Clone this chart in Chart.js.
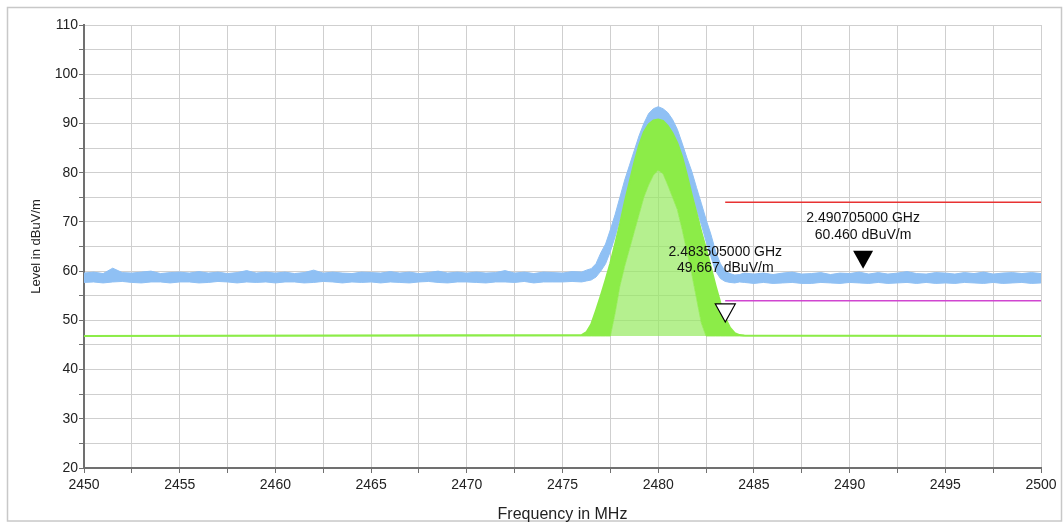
<!DOCTYPE html>
<html>
<head>
<meta charset="utf-8">
<script src="https://cdn.jsdelivr.net/npm/chart.js@4.4.1/dist/chart.umd.min.js"></script>
<style>
  html, body { margin: 0; padding: 0; background: #fff; }
  #wrap { width: 1063px; height: 524px; }
</style>
</head>
<body>
<div id="wrap"><canvas id="spectrum" width="1063" height="524"></canvas></div>
<script>
// peak (max hold) trace - blue, drawn as band between upper/lower edges
var blueFreq = [
  2450, 2450.5, 2451, 2451.5, 2452, 2452.5, 2453, 2453.5, 2454, 2454.5,
  2455, 2455.5, 2456, 2456.5, 2457, 2457.5, 2458, 2458.5, 2459, 2459.5,
  2460, 2460.5, 2461, 2461.5, 2462, 2462.5, 2463, 2463.5, 2464, 2464.5,
  2465, 2465.5, 2466, 2466.5, 2467, 2467.5, 2468, 2468.5, 2469, 2469.5,
  2470, 2470.5, 2471, 2471.5, 2472, 2472.5, 2473, 2473.5, 2474, 2474.5,
  2475, 2475.5,
  2476, 2476.25, 2476.5, 2476.75, 2477, 2477.25, 2477.5, 2477.75, 2478, 2478.25,
  2478.5, 2478.75, 2479, 2479.25, 2479.5, 2479.75, 2480, 2480.25, 2480.5, 2480.75,
  2481, 2481.25, 2481.5, 2481.75, 2482, 2482.25, 2482.5, 2482.75, 2483, 2483.25,
  2483.5, 2483.75, 2484, 2484.25, 2484.5,
  2485, 2485.5, 2486, 2486.5, 2487, 2487.5, 2488, 2488.5, 2489, 2489.5,
  2490, 2490.5, 2491, 2491.5, 2492, 2492.5, 2493, 2493.5, 2494, 2494.5,
  2495, 2495.5, 2496, 2496.5, 2497, 2497.5, 2498, 2498.5, 2499, 2499.5,
  2500
]
var blueHi = [
  59.6, 59.8, 59.5, 60.6, 59.7, 59.6, 59.8, 60.0, 59.5, 59.7,
  59.8, 59.6, 59.9, 59.6, 59.8, 59.5, 59.7, 60.1, 59.6, 59.8,
  59.6, 59.8, 59.5, 59.7, 60.2, 59.6, 59.8, 59.6, 59.5, 59.8,
  59.7, 59.6, 59.9, 59.6, 59.8, 59.5, 59.7, 60.0, 59.6, 59.8,
  59.6, 59.8, 59.6, 59.7, 60.1, 59.6, 59.8, 59.5, 59.8, 59.7,
  59.6, 59.9,
  59.8, 60.2, 60.5, 61.5, 63.7, 65.5, 68.4, 71.5, 75.0, 78.5,
  81.5, 84.5, 87.5, 90.0, 92.0, 93.0, 93.4, 93.0, 92.2, 90.8,
  88.8, 86.0, 83.0, 80.3, 77.0, 73.8, 70.5, 67.5, 64.0, 61.5,
  60.0, 59.5, 59.2, 59.3, 59.6,
  59.4, 59.6, 59.3, 59.6, 59.8, 59.4, 59.5, 59.7, 59.3, 59.6,
  59.5, 59.8, 59.4, 59.7, 59.4, 59.6, 59.9, 59.5, 59.4, 59.7,
  59.6, 59.4, 59.7, 59.5, 59.8, 59.4, 59.6, 59.7, 59.5, 59.7,
  59.5
]
var blueLo = [
  57.7, 57.8, 57.6, 57.8, 57.9, 57.7, 57.6, 57.8, 57.8, 57.6,
  57.8, 57.8, 57.6, 57.7, 57.9, 57.8, 57.6, 57.8, 57.7, 57.8,
  57.6, 57.8, 57.8, 57.6, 57.7, 57.9, 57.8, 57.6, 57.8, 57.7,
  57.8, 57.6, 57.8, 57.7, 57.6, 57.8, 57.9, 57.7, 57.6, 57.8,
  57.8, 57.7, 57.6, 57.8, 57.8, 57.7, 57.9, 57.6, 57.8, 57.8,
  57.8, 57.9,
  57.8, 58.0, 58.2, 58.8, 60.0, 61.5, 64.0, 67.0, 70.5, 74.0,
  77.0, 80.0, 83.0, 86.0, 88.5, 89.8, 90.3, 89.8, 88.8, 87.0,
  85.0, 82.0, 79.0, 76.0, 72.5, 69.5, 66.0, 63.0, 60.0, 58.5,
  57.9, 57.7, 57.6, 57.8, 57.7,
  57.5, 57.7, 57.5, 57.6, 57.7, 57.5, 57.5, 57.7, 57.6, 57.5,
  57.7, 57.6, 57.5, 57.7, 57.5, 57.6, 57.7, 57.5, 57.7, 57.5,
  57.6, 57.5, 57.7, 57.6, 57.5, 57.7, 57.5, 57.6, 57.7, 57.5,
  57.6
]

// average trace - green, solid between upper edge and inner edge
var greenFreq = [
  2450,
  2476, 2476.25, 2476.5, 2476.75, 2477, 2477.25, 2477.5, 2477.75, 2478, 2478.25,
  2478.5, 2478.75, 2479, 2479.25, 2479.5, 2479.75, 2480, 2480.25, 2480.5, 2480.75,
  2481, 2481.25, 2481.5, 2481.75, 2482, 2482.25, 2482.5, 2482.75, 2483, 2483.25,
  2483.5, 2483.75, 2484, 2484.25, 2484.5,
  2500
]
var greenHi = [
  46.8,
  47.0, 47.6, 49.2, 52.0, 55.0, 58.2, 61.6, 65.5, 69.5, 74.0,
  78.0, 82.0, 85.5, 88.2, 89.8, 90.6, 90.8, 90.5, 89.5, 88.0,
  86.0, 83.2, 79.5, 75.5, 71.8, 68.0, 64.5, 60.8, 57.0, 53.5,
  50.5, 48.5, 47.4, 47.0, 46.9,
  46.8
]
var greenLo = [
  46.8,
  46.8, 46.8, 46.8, 46.8, 46.8, 46.8, 46.8, 51.5, 57.0, 61.0,
  64.5, 68.0, 71.5, 75.0, 77.5, 79.5, 80.5, 79.8, 77.5, 75.0,
  72.5, 68.5, 64.0, 59.5, 54.5, 49.5, 46.8, 46.8, 46.8, 46.8,
  46.8, 46.8, 46.8, 46.8, 46.8,
  46.8
]

// limit lines
var limitFreq = [2483.5, 2500]
var peakLimit = 74
var avgLimit = 54

// markers
var markerFreq = [2483.505, 2490.705]
var markerLevel = [49.667, 60.460]
var markerFilled = [false, true]

var xTicksMin = 2450, xTicksMax = 2500
var yTicksMin = 20, yTicksMax = 110

function pts(xs, ys) {
  return xs.map(function (x, i) { return { x: x, y: ys[i] } })
}

var blueCol = 'rgb(143,192,244)'
var greenCol = 'rgb(140,236,72)'

var markerPlugin = {
  id: 'markers',
  afterDatasetsDraw: function (chart) {
    var ctx = chart.ctx
    var xs = chart.scales.x, ys = chart.scales.y
    var labelDy = [[-70, -54], [-51, -34]]
    ctx.save()
    for (var i = 0; i < markerFreq.length; i++) {
      var px = xs.getPixelForValue(markerFreq[i])
      var py = ys.getPixelForValue(markerLevel[i])
      ctx.beginPath()
      ctx.moveTo(px, py)
      ctx.lineTo(px - 10, py - 18)
      ctx.lineTo(px + 10, py - 18)
      ctx.closePath()
      if (markerFilled[i]) {
        ctx.fillStyle = '#000'
        ctx.fill()
      } else {
        ctx.fillStyle = '#fff'
        ctx.fill()
        ctx.strokeStyle = '#000'
        ctx.lineWidth = 1.2
        ctx.stroke()
      }
      ctx.fillStyle = '#111'
      ctx.font = '14px "Liberation Sans", Arial, sans-serif'
      ctx.textAlign = 'center'
      ctx.textBaseline = 'middle'
      ctx.fillText((markerFreq[i] / 1000).toFixed(9) + ' GHz', px, py + labelDy[i][0])
      ctx.fillText(markerLevel[i].toFixed(3) + ' dBuV/m', px, py + labelDy[i][1])
    }
    ctx.restore()
  }
}

var framePlugin = {
  id: 'frame',
  beforeDraw: function (chart) {
    var ctx = chart.ctx
    ctx.save()
    ctx.fillStyle = '#fff'
    ctx.fillRect(0, 0, chart.width, chart.height)
    ctx.strokeStyle = '#c8c8c8'
    ctx.lineWidth = 1.5
    ctx.strokeRect(7.5, 7.5, 1054, 513.5)
    ctx.restore()
  }
}

var font = { family: '"Liberation Sans", Arial, sans-serif', size: 14 }

var chart = new Chart(document.getElementById('spectrum').getContext('2d'), {
  type: 'line',
  data: {
    datasets: [
      {
        label: 'Peak limit',
        data: pts(limitFreq, [peakLimit, peakLimit]),
        borderColor: 'rgb(232,50,50)', borderWidth: 1.5,
        pointRadius: 0, fill: false, order: 0
      },
      {
        label: 'Average limit',
        data: pts(limitFreq, [avgLimit, avgLimit]),
        borderColor: 'rgb(208,70,208)', borderWidth: 1.5,
        pointRadius: 0, fill: false, order: 0
      },
      {
        label: 'Average',
        data: pts(greenFreq, greenHi),
        borderColor: greenCol, backgroundColor: greenCol, borderWidth: 2,
        pointRadius: 0, fill: { target: 3 }, order: 1
      },
      {
        label: 'Average inner',
        data: pts(greenFreq, greenLo),
        borderColor: 'rgba(140,236,72,0.7)', backgroundColor: 'rgba(150,234,95,0.7)', borderWidth: 1,
        pointRadius: 0, fill: { value: 46.8 }, order: 2
      },
      {
        label: 'Peak',
        data: pts(blueFreq, blueHi),
        borderColor: blueCol, backgroundColor: blueCol, borderWidth: 1,
        pointRadius: 0, fill: { target: 5 }, order: 3
      },
      {
        label: 'Peak low',
        data: pts(blueFreq, blueLo),
        borderColor: blueCol, borderWidth: 1,
        pointRadius: 0, fill: false, order: 4
      }
    ]
  },
  options: {
    responsive: false,
    animation: false,
    events: [],
    layout: { padding: { left: 0, top: 25, right: 22, bottom: 0 } },
    plugins: { legend: { display: false }, tooltip: { enabled: false } },
    elements: { line: { tension: 0 } },
    scales: {
      x: {
        type: 'linear', min: xTicksMin, max: xTicksMax,
        afterFit: function (s) { s.height = 56 },
        border: { color: '#707070', width: 2 },
        grid: { color: '#cfcfcf', tickColor: '#707070', tickLength: 5 },
        ticks: {
          stepSize: 2.5, autoSkip: false, maxRotation: 0, padding: 4,
          color: '#222', font: font,
          callback: function (v) { return v % 5 === 0 ? String(v) : '' }
        },
        title: {
          display: true, text: 'Frequency in MHz', color: '#222',
          font: { family: font.family, size: 16 }, padding: { top: 0, bottom: 0 }
        }
      },
      y: {
        min: yTicksMin, max: yTicksMax,
        afterFit: function (s) { s.width = 84 },
        border: { color: '#707070', width: 2 },
        grid: { color: '#cfcfcf', tickColor: '#707070', tickLength: 5 },
        ticks: {
          stepSize: 5, autoSkip: false, padding: 1,
          color: '#222', font: font,
          callback: function (v) { return v % 10 === 0 ? String(v) : '' }
        },
        title: {
          display: true, text: 'Level in dBuV/m', color: '#222',
          font: { family: font.family, size: 13 }, padding: { top: 29, bottom: 0 }
        }
      }
    }
  },
  plugins: [framePlugin, markerPlugin]
})
</script>
</body>
</html>
